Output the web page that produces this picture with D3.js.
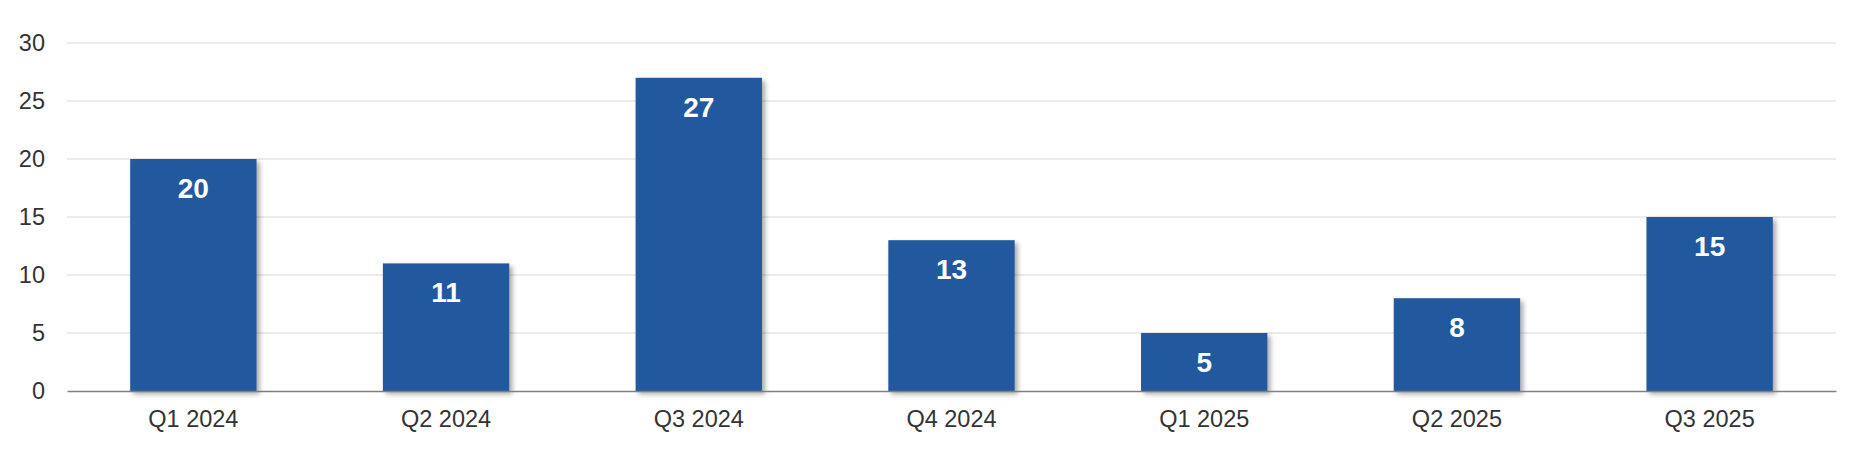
<!DOCTYPE html>
<html>
<head>
<meta charset="utf-8">
<script src="https://cdn.jsdelivr.net/npm/d3@7"></script>
<style>
  body { margin: 0; background: #fff; }
  svg text { font-family: "Liberation Sans", Arial, sans-serif; }
</style>
</head>
<body>
<div id="chart"></div>
<script>
// data
const quarters = ["Q1 2024", "Q2 2024", "Q3 2024", "Q4 2024", "Q1 2025", "Q2 2025", "Q3 2025"];
const counts = [20, 11, 27, 13, 5, 8, 15];
const yTicks = [0, 5, 10, 15, 20, 25, 30];

const width = 1873, height = 455;
const margin = {top: 43, right: 37, bottom: 64, left: 67};

const svg = d3.select("#chart").append("svg")
	.attr("width", width)
	.attr("height", height);

const defs = svg.append("defs");
const shadow = defs.append("filter")
	.attr("id", "barShadow")
	.attr("x", "-10%").attr("y", "-10%")
	.attr("width", "130%").attr("height", "130%");
shadow.append("feDropShadow")
	.attr("dx", 3).attr("dy", 3)
	.attr("stdDeviation", 2.5)
	.attr("flood-color", "#000")
	.attr("flood-opacity", 0.35);

const x = d3.scaleBand()
	.domain(quarters)
	.range([margin.left, width - margin.right])
	.paddingInner(0.5)
	.paddingOuter(0.25);

const y = d3.scaleLinear()
	.domain([0, 30])
	.range([height - margin.bottom, margin.top]);

/* grid lines */
svg.append("g")
	.selectAll("line")
	.data(yTicks.filter(d => d > 0))
	.join("line")
	.attr("x1", margin.left)
	.attr("x2", width - margin.right)
	.attr("y1", d => y(d))
	.attr("y2", d => y(d))
	.attr("stroke", "#e5e5e5")
	.attr("stroke-width", 1.5);

/* y axis labels */
const yAxis = d3.axisLeft(y).tickValues(yTicks).tickSize(0).tickPadding(22);
const gy = svg.append("g")
	.attr("transform", "translate(" + margin.left + ",0)")
	.call(yAxis);
gy.select(".domain").remove();
gy.selectAll("text")
	.attr("fill", "#333")
	.style("font-size", "23.5px");

/* bars */
svg.append("g")
	.selectAll("rect")
	.data(counts)
	.join("rect")
	.attr("x", (d, i) => x(quarters[i]))
	.attr("y", d => y(d))
	.attr("width", x.bandwidth())
	.attr("height", d => y(0) - y(d))
	.attr("fill", "#22599d")
	.attr("filter", "url(#barShadow)");

/* value labels */
svg.append("g")
	.selectAll("text")
	.data(counts)
	.join("text")
	.attr("x", (d, i) => x(quarters[i]) + x.bandwidth() / 2)
	.attr("y", d => y(d) + 39)
	.attr("text-anchor", "middle")
	.attr("fill", "#fff")
	.style("font-size", "28px")
	.style("font-weight", "bold")
	.text(d => d);

/* x axis */
const xAxis = d3.axisBottom(x).tickSize(0).tickPadding(19);
const gx = svg.append("g")
	.attr("transform", "translate(0," + y(0) + ")")
	.call(xAxis);
gx.select(".domain")
	.attr("stroke", "#7f7f7f")
	.attr("stroke-width", 1.5);
gx.selectAll("text")
	.attr("fill", "#333")
	.style("font-size", "23.5px");
</script>
</body>
</html>
